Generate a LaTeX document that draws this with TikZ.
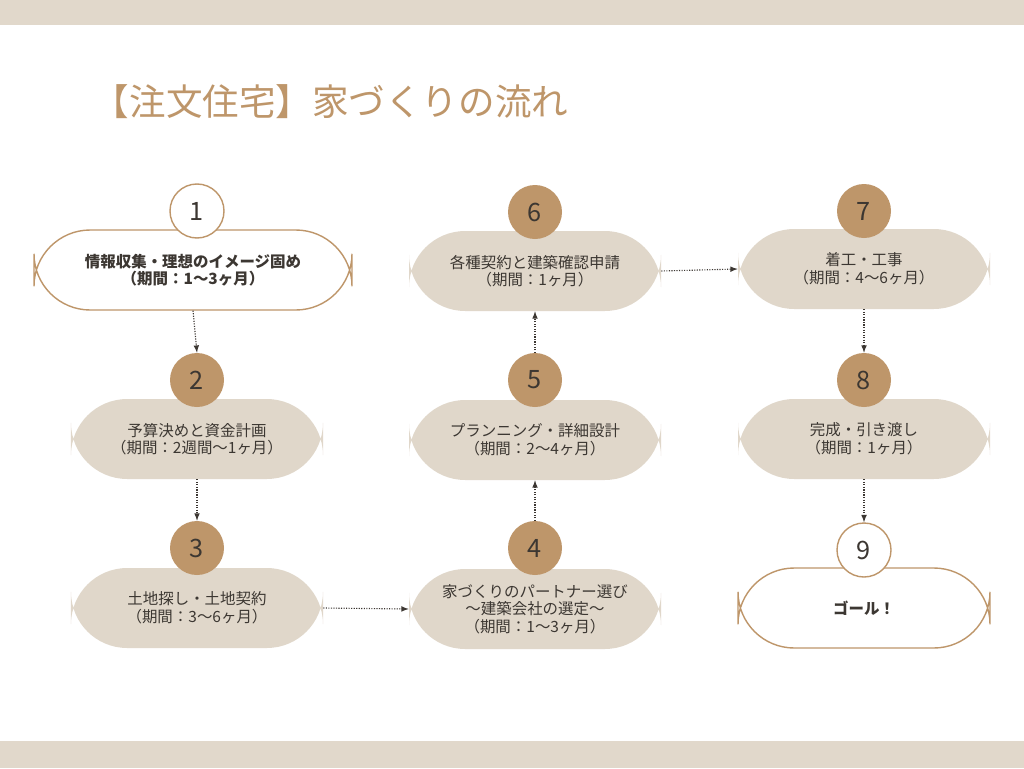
\documentclass[tikz,border=0pt]{standalone}
\usepackage{fontspec}
\setmainfont{Noto Sans CJK JP}
\newfontfamily\jpbold{Noto Sans CJK JP}[FakeBold=0]
\definecolor{band}{RGB}{225,216,203}
\definecolor{pillbg}{RGB}{224,215,202}
\definecolor{brownish}{RGB}{190,150,106}
\definecolor{ink}{RGB}{60,55,50}
\tikzset{
  pill/.style={rounded corners=40, fill=pillbg, minimum width=63mm, minimum height=20mm, align=center, text=ink, font=\fontsize{11}{12.5}\selectfont},
  whitepill/.style={pill, fill=white, draw=brownish, line width=1pt, font=\fontsize{11}{12.5}\selectfont\bfseries},
  num/.style={circle, fill=brownish, minimum size=13.5mm, inner sep=0pt, text=ink, font=\fontsize{18}{18}\selectfont},
  whitenum/.style={num, fill=white, draw=brownish, line width=1pt},
  flow/.style={-latex, densely dotted, thick, ink}
}
\begin{document}
\begin{tikzpicture}[x=0.25mm,y=-0.25mm]
\useasboundingbox (0,0) rectangle (1024,768);
\fill[white] (0,0) rectangle (1024,768);
% bands
\fill[band] (0,0) rectangle (1024,25);
\fill[band] (0,741) rectangle (1024,768);
\node[anchor=west, text=brownish, font=\fontsize{26}{26}\selectfont] (title) at (88,102) {【注文住宅】家づくりの流れ};
% steps, column 1
\node[whitepill, minimum width=79.5mm] (s1) at (193,270) {情報収集・理想のイメージ固め\\（期間：1〜3ヶ月）};
\node[whitenum] (n1) at (197,211) {1};
\node[pill] (s2) at (197,439) {予算決めと資金計画\\（期間：2週間〜1ヶ月）};
\node[num] (n2) at (197,380) {2};
\node[pill] (s3) at (197,608) {土地探し・土地契約\\（期間：3〜6ヶ月）};
\node[num] (n3) at (197,548) {3};
% column 2
\node[pill] (s4) at (535,609) {家づくりのパートナー選び\\〜建築会社の選定〜\\（期間：1〜3ヶ月）};
\node[num] (n4) at (535,548) {4};
\node[pill] (s5) at (535,440) {プランニング・詳細設計\\（期間：2〜4ヶ月）};
\node[num] (n5) at (535,380) {5};
\node[pill] (s6) at (535,271) {各種契約と建築確認申請\\（期間：1ヶ月）};
\node[num] (n6) at (535,212) {6};
% column 3
\node[pill] (s7) at (864,269) {着工・工事\\（期間：4〜6ヶ月）};
\node[num] (n7) at (864,211) {7};
\node[pill] (s8) at (864,439) {完成・引き渡し\\（期間：1ヶ月）};
\node[num] (n8) at (864,380) {8};
\node[whitepill] (s9) at (864,608) {ゴール！};
\node[whitenum] (n9) at (864,550) {9};
% connectors
\draw[flow] (s1.south) -- (n2.north);
\draw[flow] (s2.south) -- (n3.north);
\draw[flow] (s3.east) -- (s4.west);
\draw[flow] (n4.north) -- (s5.south);
\draw[flow] (n5.north) -- (s6.south);
\draw[flow] (s6.east) -- (s7.west);
\draw[flow] (s7.south) -- (n8.north);
\draw[flow] (s8.south) -- (n9.north);
\end{tikzpicture}
\end{document}
